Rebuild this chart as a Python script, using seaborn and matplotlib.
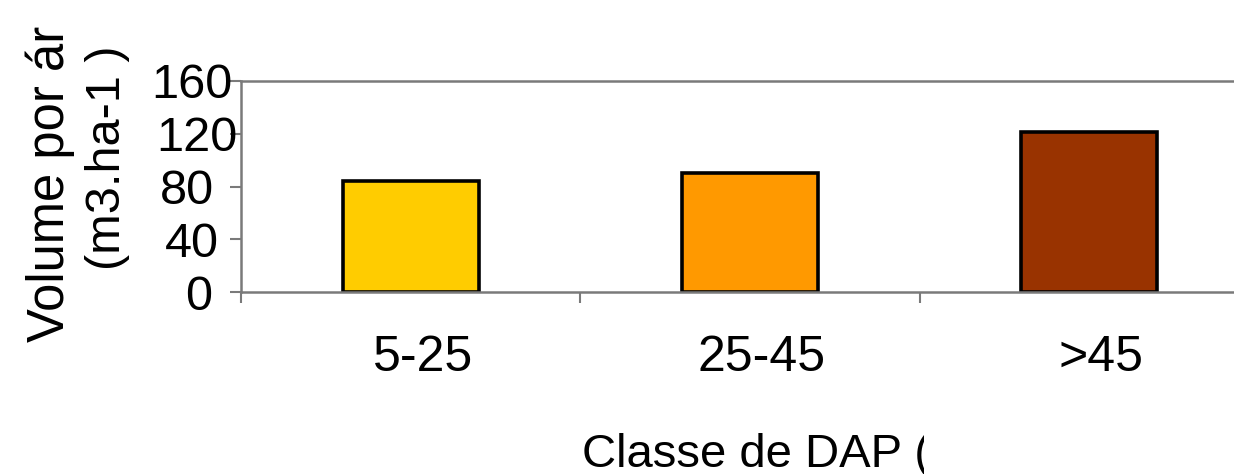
import matplotlib
matplotlib.use("Agg")
import matplotlib.pyplot as plt
import matplotlib.transforms as mtransforms
from matplotlib.ticker import FixedLocator
import pandas as pd
import seaborn as sns

# Data
classes = ["5-25", "25-45", ">45"]
volume = [84, 90, 121]
bar_colors = ["#FFCC00", "#FF9900", "#993300"]
y_ticks = [0, 40, 80, 120, 160]

sns.set_style("white")
plt.rcParams["font.family"] = ["Liberation Sans", "DejaVu Sans"]
plt.rcParams["text.color"] = "black"
plt.rcParams["xtick.labelcolor"] = "black"
plt.rcParams["ytick.labelcolor"] = "black"

W, H, DPI = 1234, 474, 100
fig = plt.figure(figsize=(W / DPI, H / DPI), dpi=DPI)
fig.patch.set_facecolor("white")

# axes box in pixels: left 241, bottom axis line 292, top 81, runs past the right edge
left_px, bottom_px, top_px, right_px = 241, 292, 81, 1259
ax = fig.add_axes([left_px / W, (H - bottom_px) / H,
                   (right_px - left_px) / W, (bottom_px - top_px) / H])

df = pd.DataFrame({"classe": classes, "volume": volume})
sns.barplot(data=df, x="classe", y="volume", hue="classe", palette=bar_colors,
            order=classes, hue_order=classes, legend=False, width=0.40,
            edgecolor="black", linewidth=2.6, saturation=1, ax=ax)

ax.set_xlim(-0.5, len(classes) - 0.5)
ax.set_ylim(0, 160)
ax.set_yticks(y_ticks)
ax.set_xlabel("")
ax.set_ylabel("")

spine_color = "#7a7a7a"
for side in ["left", "bottom", "top", "right"]:
    ax.spines[side].set_visible(True)
    ax.spines[side].set_color(spine_color)
    ax.spines[side].set_linewidth(1.8)

fs = 35
ax.tick_params(axis="y", direction="out", length=8, width=1.5, color=spine_color,
               labelsize=fs, pad=2, left=True, labelcolor="black")
ax.tick_params(axis="x", which="major", length=0, labelsize=36, pad=31, bottom=True,
               labelcolor="black")
ax.xaxis.set_minor_locator(FixedLocator([-0.5, 0.5, 1.5, 2.5]))
ax.tick_params(axis="x", which="minor", direction="out", length=8, width=1.5,
               color=spine_color, bottom=True)

# category labels sit a little right of the bar centres
shift = mtransforms.ScaledTranslation(12 / DPI, 0, fig.dpi_scale_trans)
for lab in ax.get_xticklabels():
    lab.set_transform(lab.get_transform() + shift)

# value labels are not evenly right-aligned
y_label_dx = [-15, -8, -13, 10, 5]
for lab, dx in zip(ax.get_yticklabels(), y_label_dx):
    lab.set_transform(lab.get_transform() +
                      mtransforms.ScaledTranslation(dx / DPI, 0, fig.dpi_scale_trans))

# axis titles
fig.text(50 / W, (H - 342) / H, "Volume por ár", rotation=90, fontsize=36.5,
         ha="center", va="bottom")
fig.text(107 / W, (H - 158) / H, "(m3.ha-1 )", rotation=90, fontsize=fs,
         ha="center", va="center")
xl = fig.text(582 / W, (H - 467) / H, "Classe de DAP (", fontsize=34,
              ha="left", va="baseline")
xl.set_clip_box(mtransforms.Bbox.from_extents(0, 0, 924, H))
xl.set_clip_on(True)

fig.savefig("out.png", dpi=DPI, facecolor="white")
